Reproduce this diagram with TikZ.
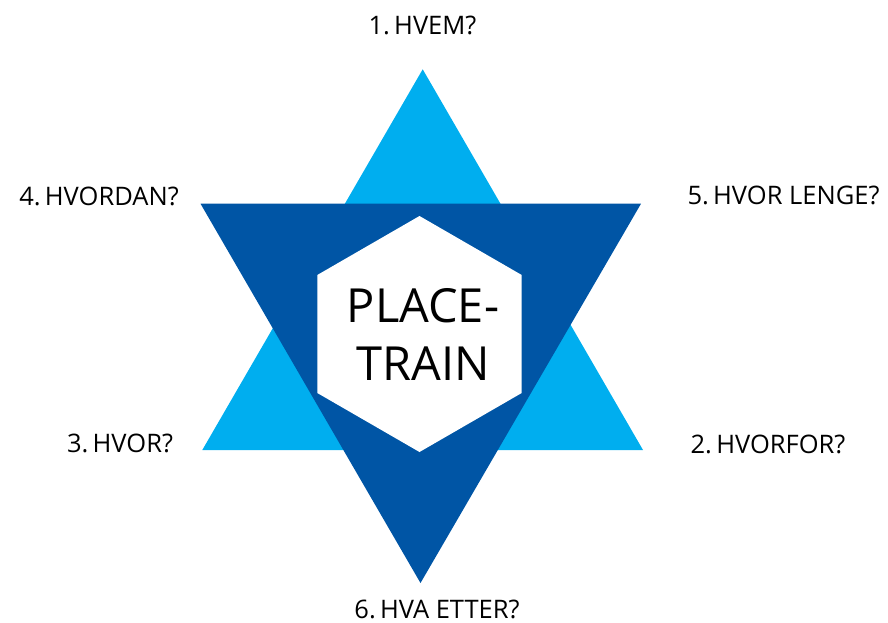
\documentclass[tikz,border=0pt]{standalone}
\usepackage{fontspec}
\setmainfont{Open Sans}
\definecolor{lightblue}{RGB}{0,174,239}
\definecolor{darkblue}{RGB}{0,85,165}
\begin{document}
\begin{tikzpicture}[x=1pt,y=-1pt,
  lbl/.style={font=\fontsize{25.5}{30}\selectfont, inner sep=0pt, anchor=base},
  big/.style={font=\fontsize{47}{58}\selectfont, align=center, inner sep=0pt}]
\useasboundingbox (0,0) rectangle (888,623);
% light triangle
\coordinate (LT) at (422.7,69.3);
\coordinate (LL) at (202.3,450);
\coordinate (LR) at (643,450);
\fill[lightblue] (LT) -- (LL) -- (LR) -- cycle;
% dark triangle
\coordinate (DL) at (200.5,203.7);
\coordinate (DR) at (641,203.7);
\coordinate (DB) at (420.5,583);
\fill[darkblue] (DL) -- (DR) -- (DB) -- cycle;
% hexagon
\coordinate (C) at (419.5,334);
\fill[white] (C) ++(90:-118) -- ++(-30:-118) -- ++(-90:-118) -- ++(-150:-118) -- ++(-210:-118) -- ++(-270:-118) -- cycle;
\node[big] (center) at (423,334) {PLACE-\\TRAIN};
% labels
\node[lbl] (q1) at (422.5,35) {1.\,HVEM?};
\node[lbl] (q4) at (99,205) {4.\,HVORDAN?};
\node[lbl] (q5) at (783.5,204) {5.\,HVOR LENGE?};
\node[lbl] (q3) at (120,452) {3.\,HVOR?};
\node[lbl] (q2) at (768,453) {2.\,HVORFOR?};
\node[lbl] (q6) at (437,618) {6.\,HVA ETTER?};
\end{tikzpicture}
\end{document}
